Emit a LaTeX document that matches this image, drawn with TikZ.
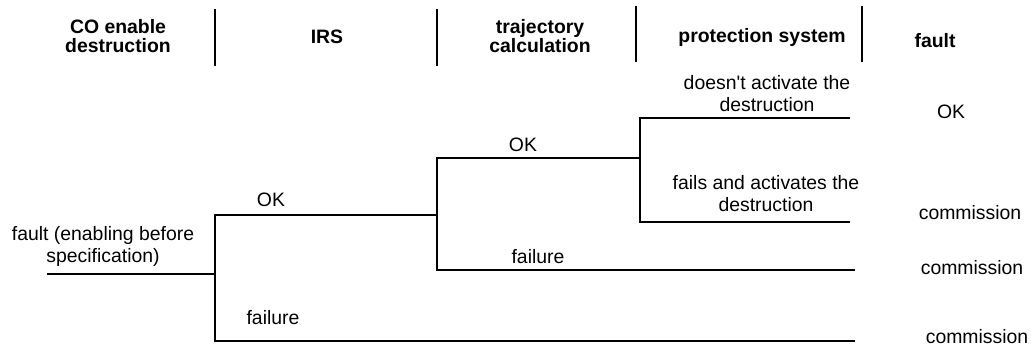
\documentclass[tikz,border=0pt]{standalone}
\usepackage{fontspec}
\setmainfont{Liberation Sans}
\begin{document}
\begin{tikzpicture}[x=0.5pt,y=-0.5pt,
  branch/.style={line width=0.9pt},
  sepline/.style={line width=0.9pt},
  head/.style={font=\fontsize{9.7}{9.5}\selectfont\bfseries, align=center, inner sep=0pt},
  lbl/.style={font=\fontsize{9.7}{11}\selectfont, align=center, inner sep=0pt}]
\useasboundingbox (0,0) rectangle (1031,350);

% column headings
\node[head] (hCO)   at (118,36) {CO enable\\destruction};
\node[head] (hIRS)  at (327,37) {IRS};
\node[head] (hTraj) at (540,36) {trajectory\\calculation};
\node[head] (hProt) at (762,37) {protection system};
\node[head] (hFlt)  at (935,41) {fault};

% column separators
\draw[sepline] (215,9) -- (215,66);
\draw[sepline] (437,9) -- (437,66);
\draw[sepline] (636,6) -- (636,62);
\draw[sepline] (862,6) -- (862,62);

% branching points of the event tree
\coordinate (root) at (47,274);
\coordinate (j1)   at (215,274);
\coordinate (j1a)  at (215,215);
\coordinate (j1b)  at (215,341);
\coordinate (j2)   at (437,215);
\coordinate (j2a)  at (437,158);
\coordinate (j2b)  at (437,270);
\coordinate (j3)   at (640,158);
\coordinate (j3a)  at (640,118);
\coordinate (j3b)  at (640,222);
\coordinate (e1)   at (850,118);
\coordinate (e2)   at (850,222);
\coordinate (e3)   at (855,270);
\coordinate (e4)   at (855,341);

% tree branches
\draw[branch] (root) -- (j1);
\draw[branch] (j2) -- (j1a) -- (j1b) -- (e4);
\draw[branch] (j3) -- (j2a) -- (j2b) -- (e3);
\draw[branch] (e1) -- (j3a) -- (j3b) -- (e2);

% branch labels
\node[lbl] (init)  at (103,246) {fault (enabling before\\specification)};
\node[lbl] (ok1)   at (271,200) {OK};
\node[lbl] (fail1) at (273,318) {failure};
\node[lbl] (ok2)   at (523,145) {OK};
\node[lbl] (fail2) at (538,257) {failure};
\node[lbl] (noact) at (767,94)  {doesn\textquotesingle t activate the\\destruction};
\node[lbl] (act)   at (766,194) {fails and activates the\\destruction};

% outcomes
\node[lbl] (r1) at (951,112) {OK};
\node[lbl] (r2) at (970,213) {commission};
\node[lbl] (r3) at (972,268) {commission};
\node[lbl] (r4) at (977,337) {commission};
\end{tikzpicture}
\end{document}
